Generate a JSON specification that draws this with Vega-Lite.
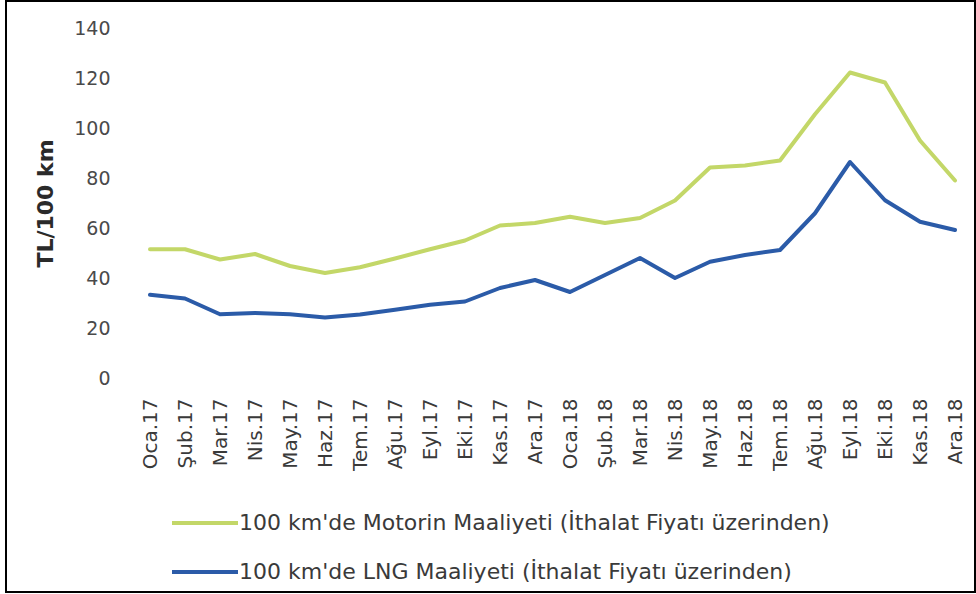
{
  "$schema": "https://vega.github.io/schema/vega-lite/v6.json",
  "autosize": {"type": "none"},
  "padding": {"left": 6, "top": 1, "right": 1, "bottom": 2},
  "width": 969,
  "height": 591,
  "background": "#ffffff",
  "config": {
    "view": {"stroke": "#000000", "strokeWidth": 2},
    "font": "DejaVu Sans"
  },
  "data": {
    "values": [
      {"month": "Oca.17", "series": "Motorin", "value": 51.5},
      {"month": "Şub.17", "series": "Motorin", "value": 51.5},
      {"month": "Mar.17", "series": "Motorin", "value": 47.4},
      {"month": "Nis.17", "series": "Motorin", "value": 49.6},
      {"month": "May.17", "series": "Motorin", "value": 44.8},
      {"month": "Haz.17", "series": "Motorin", "value": 42.0},
      {"month": "Tem.17", "series": "Motorin", "value": 44.3},
      {"month": "Ağu.17", "series": "Motorin", "value": 47.8},
      {"month": "Eyl.17", "series": "Motorin", "value": 51.5},
      {"month": "Eki.17", "series": "Motorin", "value": 55.0},
      {"month": "Kas.17", "series": "Motorin", "value": 61.0},
      {"month": "Ara.17", "series": "Motorin", "value": 62.0},
      {"month": "Oca.18", "series": "Motorin", "value": 64.5},
      {"month": "Şub.18", "series": "Motorin", "value": 62.0},
      {"month": "Mar.18", "series": "Motorin", "value": 64.0},
      {"month": "Nis.18", "series": "Motorin", "value": 71.0},
      {"month": "May.18", "series": "Motorin", "value": 84.2},
      {"month": "Haz.18", "series": "Motorin", "value": 85.0},
      {"month": "Tem.18", "series": "Motorin", "value": 87.0},
      {"month": "Ağu.18", "series": "Motorin", "value": 105.5},
      {"month": "Eyl.18", "series": "Motorin", "value": 122.2},
      {"month": "Eki.18", "series": "Motorin", "value": 118.2},
      {"month": "Kas.18", "series": "Motorin", "value": 95.0},
      {"month": "Ara.18", "series": "Motorin", "value": 79.0},
      {"month": "Oca.17", "series": "LNG", "value": 33.3},
      {"month": "Şub.17", "series": "LNG", "value": 31.8},
      {"month": "Mar.17", "series": "LNG", "value": 25.5},
      {"month": "Nis.17", "series": "LNG", "value": 26.0},
      {"month": "May.17", "series": "LNG", "value": 25.5},
      {"month": "Haz.17", "series": "LNG", "value": 24.2},
      {"month": "Tem.17", "series": "LNG", "value": 25.4},
      {"month": "Ağu.17", "series": "LNG", "value": 27.3},
      {"month": "Eyl.17", "series": "LNG", "value": 29.3},
      {"month": "Eki.17", "series": "LNG", "value": 30.6},
      {"month": "Kas.17", "series": "LNG", "value": 36.0},
      {"month": "Ara.17", "series": "LNG", "value": 39.2},
      {"month": "Oca.18", "series": "LNG", "value": 34.4},
      {"month": "Şub.18", "series": "LNG", "value": 41.2},
      {"month": "Mar.18", "series": "LNG", "value": 48.0},
      {"month": "Nis.18", "series": "LNG", "value": 40.0},
      {"month": "May.18", "series": "LNG", "value": 46.5},
      {"month": "Haz.18", "series": "LNG", "value": 49.2},
      {"month": "Tem.18", "series": "LNG", "value": 51.2},
      {"month": "Ağu.18", "series": "LNG", "value": 65.9},
      {"month": "Eyl.18", "series": "LNG", "value": 86.4},
      {"month": "Eki.18", "series": "LNG", "value": 71.1},
      {"month": "Kas.18", "series": "LNG", "value": 62.5},
      {"month": "Ara.18", "series": "LNG", "value": 59.2}
    ]
  },
  "mark": {"type": "line", "strokeWidth": 4, "strokeCap": "round", "strokeJoin": "round"},
  "encoding": {
    "x": {
      "field": "month",
      "type": "nominal",
      "sort": null,
      "scale": {"type": "point", "range": [144, 949], "padding": 0},
      "axis": {
        "title": null,
        "orient": "bottom",
        "offset": -194,
        "domain": false,
        "ticks": false,
        "tickSize": 0,
        "labelPadding": 0,
        "labelAngle": -90,
        "labelFont": "DejaVu Sans",
        "labelFontSize": 20,
        "labelColor": "#3a3a3a",
        "labelOverlap": false,
        "labelBound": false
      }
    },
    "y": {
      "field": "value",
      "type": "quantitative",
      "scale": {"domain": [0, 140], "range": [377, 27], "nice": false, "zero": false},
      "axis": {
        "title": "TL/100 km",
        "orient": "left",
        "offset": -104,
        "values": [0, 20, 40, 60, 80, 100, 120, 140],
        "grid": false,
        "domain": false,
        "ticks": false,
        "tickSize": 0,
        "labelPadding": 0,
        "labelFont": "DejaVu Sans",
        "labelFontSize": 19,
        "labelColor": "#4a4a4a",
        "titleFont": "DejaVu Sans",
        "titleFontSize": 22,
        "titleFontWeight": "bold",
        "titleColor": "#2a2a2a",
        "titlePadding": 16
      }
    },
    "color": {
      "field": "series",
      "type": "nominal",
      "scale": {"domain": ["Motorin", "LNG"], "range": ["#c3d768", "#2b5ba8"]},
      "legend": {
        "title": null,
        "orient": "none",
        "legendX": 186,
        "legendY": 509,
        "direction": "vertical",
        "symbolType": "M-3,0H3",
        "symbolSize": 484,
        "symbolStrokeWidth": 4,
        "labelOffset": 21,
        "rowPadding": 25,
        "labelFont": "DejaVu Sans",
        "labelFontSize": 22,
        "labelColor": "#3a3a3a",
        "labelLimit": 800,
        "labelExpr": "datum.value == 'Motorin' ? '100 km\\'de Motorin Maaliyeti (İthalat Fiyatı üzerinden)' : '100 km\\'de LNG Maaliyeti (İthalat Fiyatı üzerinden)'"
      }
    }
  }
}
